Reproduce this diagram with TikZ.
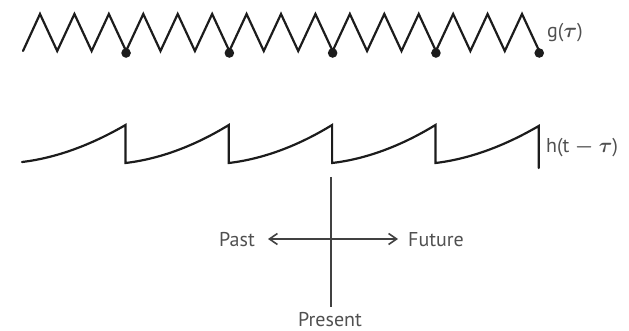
\documentclass[tikz,border=0pt]{standalone}
\usepackage{fontspec}
\usepackage{bm}
\setmainfont{PT Sans}
\usetikzlibrary{arrows.meta}
\definecolor{txtgray}{RGB}{80,80,80}
\definecolor{axgray}{RGB}{65,65,65}
\definecolor{ink}{RGB}{28,28,28}
\tikzset{
  wave/.style={draw=ink, line width=2.2pt, line join=miter, line cap=round},
  lbl/.style={text=txtgray, font=\fontsize{20}{22}\selectfont, inner sep=0pt},
  axis/.style={draw=axgray, line width=1.1pt},
  dotmark/.style={fill=ink, draw=none},
  tip/.style={arrows={Straight Barb[length=8pt,width=11pt,line width=1.6pt]-Straight Barb[length=8pt,width=11pt,line width=1.6pt]}},
}
\begin{document}
\begin{tikzpicture}[x=1pt,y=-1pt]
\useasboundingbox (0,0) rectangle (629,331);
% zigzag g(tau)
\draw[wave] (23,51) foreach \i in {0,...,14} { -- ({40+34.43*\i},14) -- ({57.2+34.43*\i},51) };
\foreach \i in {2,5,8,11,14} {
  \fill[dotmark] ({57.2+34.43*\i},53) circle (4.8);
}
\node[lbl, anchor=base west] (g) at (547,38) {g($\bm{\tau}$)};
% sawtooth h(t - tau)
\draw[wave] (22,162)
  .. controls (56,158) and (91,145) .. (125.5,125) -- (125.5,163)
  .. controls (159.5,159) and (194.5,146) .. (228.8,125) -- (228.8,163)
  .. controls (262.8,159) and (297.8,146) .. (332.1,125) -- (332.1,163)
  .. controls (366.1,159) and (401.1,146) .. (435.4,125) -- (435.4,163)
  .. controls (469.4,159) and (504.4,146) .. (538.7,126) -- (538.7,168);
\node[lbl, anchor=base west] (h) at (546,153) {h(t $\bm{-}$ $\bm{\tau}$)};
% axes
\coordinate (top) at (331,177);
\coordinate (bot) at (331,307);
\coordinate (left) at (268,239);
\coordinate (right) at (398,239);
\draw[axis] (top) -- (bot);
\draw[axis, tip] (left) -- (right);
\node[lbl, anchor=base east] (past) at (255,246) {Past};
\node[lbl, anchor=base west] (future) at (408,247) {Future};
\node[lbl, anchor=base] (present) at (330,326) {Present};
\end{tikzpicture}
\end{document}
